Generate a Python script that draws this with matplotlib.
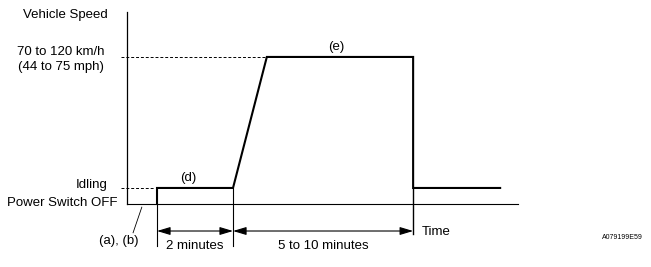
import matplotlib.pyplot as plt

OUTPUT_PATH = "out.png"

plt.rcParams["font.family"] = ["Liberation Sans", "DejaVu Sans"]

# ---------- data (schematic units: time along x, speed level along y) ----------
# speed levels
OFF = 0.0
IDLE = 1.0
HIGH = 9.19

profile_t = [0.79, 0.79, 2.79, 3.68, 7.53, 7.53, 9.82]
profile_v = [OFF, IDLE, IDLE, HIGH, HIGH, IDLE, IDLE]

marker_t = [0.79, 2.79, 7.53]          # extension lines / interval borders
interval_labels = ["2 minutes", "5 to 10 minutes"]
level_labels = ["Idling", "Power Switch OFF"]

# ---------- plot ----------
fig = plt.figure(figsize=(6.51, 2.67), dpi=100)
ax = fig.add_axes([0, 0, 1, 1])
ax.set_xlim(-3.342, 13.79)
ax.set_ylim(-3.94, 12.75)
ax.axis("off")

# axes
ax.plot([0, 0], [OFF, 12.0], color="black", lw=0.9)
ax.plot([0, 10.29], [OFF, OFF], color="black", lw=0.8)

# reference dashes
ax.plot([-0.15, 0.75], [IDLE, IDLE], color="black", lw=0.7, ls=(0, (3, 2)))
ax.plot([-0.15, 3.68], [HIGH, HIGH], color="black", lw=0.7, ls=(0, (3, 2)))

# speed profile
ax.plot(profile_t, profile_v, color="black", lw=1.5, solid_joinstyle="miter")

# extension lines
ax.plot([marker_t[0], marker_t[0]], [OFF, -2.6], color="black", lw=0.8)
ax.plot([marker_t[1], marker_t[1]], [IDLE, -2.6], color="black", lw=0.8)
ax.plot([marker_t[2], marker_t[2]], [IDLE, -1.85], color="black", lw=1.0)

# interval arrows
arrow_y = -1.69
for a, b in [(marker_t[0], marker_t[1]), (marker_t[1], marker_t[2])]:
    ax.annotate("", xy=(b, arrow_y), xytext=(a, arrow_y),
                arrowprops=dict(arrowstyle="<|-|>,head_length=0.8,head_width=0.24",
                                color="black", lw=0.8, shrinkA=0, shrinkB=0))

# leader line for (a), (b)
ax.plot([0.39, 0.16], [-0.2, -1.8], color="black", lw=0.6)

# ---------- text ----------
fs = 9.5
ax.text(-0.5, 11.81, "Vehicle Speed", fontsize=fs, va="center", ha="right")
ax.text(-0.58, 9.5, "70 to 120 km/h", fontsize=fs, va="center", ha="right")
ax.text(-0.6, 8.56, "(44 to 75 mph)", fontsize=fs, va="center", ha="right")
ax.text(-0.5, 1.19, level_labels[0], fontsize=fs, va="center", ha="right")
ax.text(-0.26, 0.06, level_labels[1], fontsize=fs, va="center", ha="right")
ax.text(0.29, -2.31, "(a), (b)", fontsize=fs, va="center", ha="right")
ax.text(1.6, 1.63, "(d)", fontsize=fs, va="center", ha="center")
ax.text(5.5, 9.81, "(e)", fontsize=fs, va="center", ha="center")
ax.text((marker_t[0] + marker_t[1]) / 2, -2.63, interval_labels[0],
        fontsize=fs, va="center", ha="center")
ax.text((marker_t[1] + marker_t[2]) / 2, -2.63, interval_labels[1],
        fontsize=fs, va="center", ha="center")
ax.text(7.76, -1.75, "Time", fontsize=fs, va="center", ha="left")
ax.text(12.5, -2.125, "A079199E59", fontsize=5, va="center", ha="left")

fig.savefig(OUTPUT_PATH, dpi=100)
plt.close(fig)
